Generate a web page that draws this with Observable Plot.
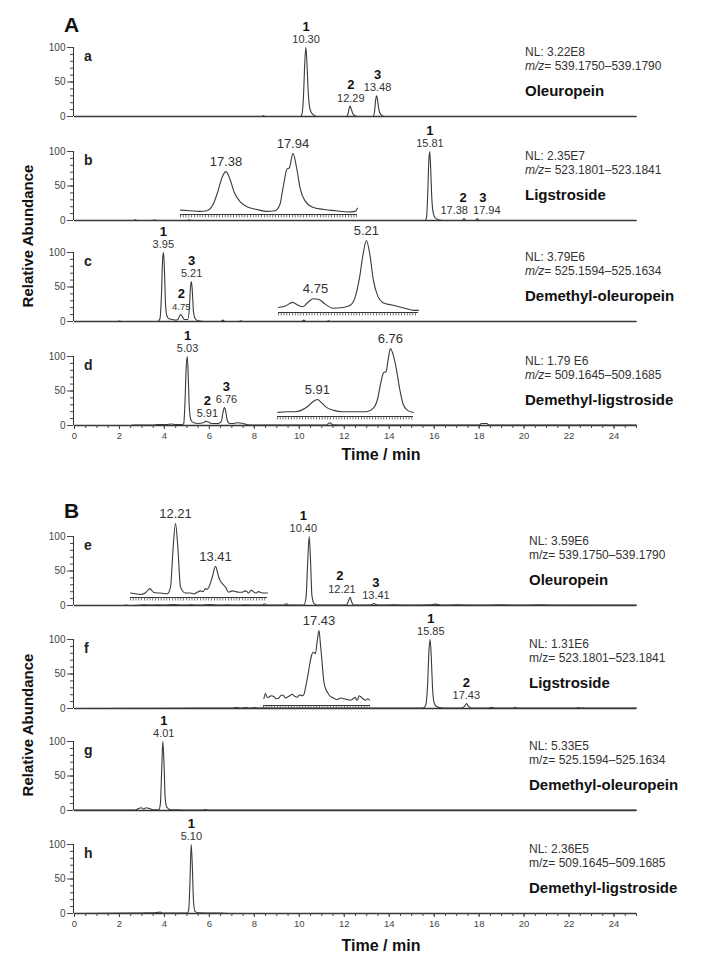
<!DOCTYPE html>
<html><head><meta charset="utf-8">
<script src="https://cdn.jsdelivr.net/npm/d3@7"></script>
<script src="https://cdn.jsdelivr.net/npm/@observablehq/plot@0.6"></script>
<style>
html,body{margin:0;padding:0;background:#fff;}
#fig{position:relative;width:710px;height:967px;font-family:"Liberation Sans",Arial,Helvetica,sans-serif;overflow:hidden;background:#fff;}
.abs{position:absolute;white-space:nowrap;line-height:1;}
</style></head><body><div id="fig"></div>
<script>
// ---------------- DATA ----------------
const groupTitles = ["A", "B"];
const panelLetters = ["a", "b", "c", "d", "e", "f", "g", "h"];
const nlValues = ["3.22E8", "2.35E7", "3.79E6", "1.79 E6", "3.59E6", "1.31E6", "5.33E5", "2.36E5"];
const mzRanges = ["539.1750–539.1790", "523.1801–523.1841", "525.1594–525.1634", "509.1645–509.1685",
                  "539.1750–539.1790", "523.1801–523.1841", "525.1594–525.1634", "509.1645–509.1685"];
const compoundNames = ["Oleuropein", "Ligstroside", "Demethyl-oleuropein", "Demethyl-ligstroside",
                       "Oleuropein", "Ligstroside", "Demethyl-oleuropein", "Demethyl-ligstroside"];
const yTickLabels = [0, 50, 100];
const xTickLabels = [0, 2, 4, 6, 8, 10, 12, 14, 16, 18, 20, 22, 24];
const yAxisTitle = "Relative Abundance";
const xAxisTitle = "Time / min";

// chromatogram traces: [time (min), relative abundance (%)]
const trace_a = [[0,0],[8.3,0],[8.4,1],[8.5,0],[10.05,0],[10.12,4],[10.18,25],[10.24,75],[10.29,100],[10.34,78],[10.39,40],[10.45,15],[10.53,6],[10.65,2],[10.8,0],[12.1,0],[12.17,4],[12.22,12],[12.26,15],[12.31,11],[12.37,5],[12.47,1],[12.6,0],[13.28,0],[13.35,8],[13.40,25],[13.44,30],[13.48,24],[13.54,10],[13.62,3],[13.8,0],[25,0]];
const trace_b = [[0,0],[2.6,0],[2.7,1],[2.8,0],[3.5,0],[3.56,1],[3.65,0],[5.0,0],[5.1,1],[5.2,0],[15.6,0],[15.66,5],[15.71,35],[15.76,85],[15.80,100],[15.84,80],[15.89,35],[15.95,12],[16.04,4],[16.2,1],[16.4,0],[17.25,0],[17.33,3],[17.41,0],[17.84,0],[17.92,3],[18.0,0],[25,0]];
const trace_c = [[0,0],[1.9,0],[2.0,0.6],[2.1,0],[3.7,0],[3.80,4],[3.87,40],[3.92,90],[3.96,100],[4.0,75],[4.05,25],[4.11,8],[4.2,4],[4.35,3],[4.5,2],[4.6,3],[4.67,8],[4.73,10],[4.8,7],[4.88,3],[5.04,3],[5.11,20],[5.16,50],[5.20,58],[5.24,45],[5.29,15],[5.37,4],[5.5,1],[5.8,0],[6.5,0],[6.6,2],[6.7,0],[7.3,0],[7.4,1],[7.5,0],[10.1,0],[10.2,2],[10.3,0],[11.2,0],[11.3,1],[11.4,0],[25,0]];
const trace_d = [[0,0],[2.5,0],[2.6,0.8],[3.5,0.8],[3.7,1.5],[4.1,1.5],[4.3,2.2],[4.5,1.5],[4.8,1.5],[4.86,3],[4.91,30],[4.97,85],[5.02,100],[5.06,70],[5.11,25],[5.18,8],[5.3,4],[5.5,3],[5.72,4],[5.84,6],[5.95,5],[6.1,3],[6.4,3],[6.53,6],[6.6,18],[6.67,26],[6.73,20],[6.79,8],[6.9,3],[7.1,3],[7.25,4],[7.5,3],[7.7,1],[8.0,0.5],[11.2,0.5],[11.35,4],[11.5,1],[12,0.5],[18.0,0.5],[18.1,3],[18.35,3],[18.45,0.5],[25,0.5]];
const trace_e = [[0,0],[2.2,0],[2.3,0.8],[2.4,0],[2.8,0.3],[3.1,1],[3.4,0.5],[3.7,1],[4.0,0.6],[4.4,1.2],[4.8,0.5],[5.2,1],[5.6,0.6],[6.0,1.2],[6.4,0.5],[6.8,1],[7.2,0.6],[7.6,1],[8.0,0.5],[8.35,0.6],[8.45,2.5],[8.55,0.6],[9.0,0.5],[9.3,0.6],[9.42,2.5],[9.55,0.5],[10.2,0.5],[10.3,12],[10.37,60],[10.44,100],[10.5,65],[10.56,15],[10.65,3],[10.8,0.5],[11.5,0.5],[12.1,0.6],[12.18,6],[12.26,12],[12.33,5],[12.42,0.6],[13.1,0.5],[13.24,1.5],[13.32,3],[13.41,1.5],[13.6,0.5],[14.2,1],[15.0,0.6],[15.8,1],[16.05,2],[16.3,0.6],[17.0,1],[18.0,0.6],[19.0,1],[19.8,0.6],[20.7,1],[21.5,0.6],[22.5,0.8],[23.5,0.5],[24.5,0.6],[25,0.5]];
const trace_f = [[0,0],[3,0.3],[6,0.5],[7.0,0.5],[7.2,1.2],[7.4,0.6],[7.6,1.2],[7.8,0.6],[8.0,1.2],[8.2,0.6],[8.4,1],[8.6,0.5],[10,0.5],[12,0.6],[14,0.5],[15.5,0.5],[15.62,4],[15.70,30],[15.77,85],[15.82,100],[15.87,75],[15.93,28],[16.0,8],[16.1,3],[16.3,1],[16.6,0.5],[17.2,0.5],[17.34,3],[17.44,7],[17.53,3],[17.65,0.8],[18.4,0.6],[18.55,1.6],[18.7,0.6],[19.5,0.6],[19.6,1.8],[19.7,0.6],[22.3,0.6],[22.42,1.2],[22.52,0.6],[22.62,1],[22.72,0.5],[25,0.5]];
const trace_g = [[0,0.5],[2.7,0.5],[2.85,3],[2.98,4],[3.08,2],[3.18,4],[3.32,3],[3.5,1],[3.75,1],[3.82,10],[3.88,60],[3.93,100],[3.98,70],[4.03,20],[4.1,5],[4.3,1],[4.8,0.8],[5.7,0.5],[5.82,1.5],[5.92,0.5],[25,0.5]];
const trace_h = [[0,0],[2.5,0.5],[3.0,0.8],[3.5,1],[3.82,2],[3.92,0.6],[4.5,0.5],[5.0,0.5],[5.08,5],[5.14,50],[5.19,100],[5.24,70],[5.29,20],[5.36,3],[5.5,1],[6.5,0.5],[7,0],[25,0]];
const traces = [trace_a, trace_b, trace_c, trace_d, trace_e, trace_f, trace_g, trace_h];

// peak annotations: apex time, apex height, peak number, retention time label
const peaks_a = [{t:10.30,h:100,n:"1",rt:"10.30"},{t:12.29,h:15,n:"2",rt:"12.29"},{t:13.48,h:30,n:"3",rt:"13.48"}];
const peaks_b = [{t:15.81,h:100,n:"1",rt:"15.81"},{t:17.38,h:3,n:"2",rt:"17.38"},{t:17.94,h:3,n:"3",rt:"17.94"}];
const peaks_c = [{t:3.95,h:100,n:"1",rt:"3.95"},{t:4.75,h:10,n:"2",rt:"4.75"},{t:5.21,h:58,n:"3",rt:"5.21"}];
const peaks_d = [{t:5.03,h:100,n:"1",rt:"5.03"},{t:5.91,h:6,n:"2",rt:"5.91"},{t:6.76,h:26,n:"3",rt:"6.76"}];
const peaks_e = [{t:10.40,h:100,n:"1",rt:"10.40"},{t:12.21,h:12,n:"2",rt:"12.21"},{t:13.41,h:3,n:"3",rt:"13.41"}];
const peaks_f = [{t:15.85,h:100,n:"1",rt:"15.85"},{t:17.43,h:7,n:"2",rt:"17.43"}];
const peaks_g = [{t:3.97,h:100,n:"1",rt:"4.01"}];
const peaks_h = [{t:5.20,h:100,n:"1",rt:"5.10"}];
const peaks = [peaks_a, peaks_b, peaks_c, peaks_d, peaks_e, peaks_f, peaks_g, peaks_h];

// zoomed insets (time in min, relative abundance within the inset)
const inset_b = [[17.00,7],[17.08,6],[17.16,5],[17.22,6],[17.27,15],[17.31,35],[17.35,60],[17.38,68],[17.41,58],[17.45,35],[17.50,20],[17.56,12],[17.64,8],[17.72,5],[17.79,6],[17.83,15],[17.86,45],[17.89,72],[17.91,74],[17.94,97],[17.97,75],[18.00,42],[18.04,22],[18.10,12],[18.20,8],[18.30,6],[18.40,4],[18.46,5],[18.48,10]];
const inset_c = [[4.45,7],[4.51,9],[4.57,14],[4.62,10],[4.66,8],[4.71,15],[4.75,19],[4.80,18],[4.85,12],[4.92,6],[5.01,7],[5.07,10],[5.11,20],[5.15,48],[5.18,80],[5.21,100],[5.24,80],[5.27,45],[5.31,22],[5.35,14],[5.44,10],[5.54,6],[5.62,3],[5.66,3]];
const inset_d = [[5.45,6],[5.55,7],[5.65,7],[5.72,9],[5.80,15],[5.86,22],[5.91,25],[5.96,20],[6.02,13],[6.10,9],[6.20,7],[6.35,7],[6.48,7],[6.56,12],[6.61,25],[6.65,50],[6.68,64],[6.71,66],[6.74,88],[6.76,100],[6.79,92],[6.83,70],[6.87,40],[6.91,18],[6.96,9],[7.03,6]];
const inset_e = [[10.86,6],[11.00,5],[11.16,4],[11.30,6],[11.44,12],[11.55,7],[11.66,6],[11.76,6],[11.96,5],[12.06,14],[12.14,68],[12.21,100],[12.28,68],[12.36,14],[12.51,6],[12.66,6],[12.76,5],[12.86,7],[12.96,9],[13.04,8],[13.11,12],[13.16,11],[13.21,14],[13.31,27],[13.41,42],[13.51,27],[13.56,22],[13.61,19],[13.71,14],[13.81,7],[13.91,9],[14.01,8],[14.11,7],[14.21,7],[14.31,9],[14.41,6],[14.48,10],[14.61,6],[14.70,8],[14.76,7],[14.86,6],[14.97,6]];
const inset_f = [[16.06,9],[16.10,16],[16.14,11],[16.18,11],[16.24,13],[16.31,12],[16.37,9],[16.44,10],[16.50,14],[16.56,13],[16.60,10],[16.65,11],[16.71,13],[16.77,15],[16.84,12],[16.90,11],[16.96,14],[17.03,13],[17.08,16],[17.11,24],[17.17,40],[17.22,56],[17.27,68],[17.30,71],[17.34,70],[17.36,69],[17.41,88],[17.45,100],[17.49,80],[17.51,69],[17.54,50],[17.57,33],[17.62,22],[17.66,18],[17.72,13],[17.78,11],[17.85,9],[17.91,8],[18.00,10],[18.08,9],[18.16,8],[18.25,7],[18.31,9],[18.37,11],[18.40,7],[18.43,8],[18.46,13],[18.50,12],[18.56,9],[18.63,7],[18.68,9],[18.73,7]];
const insetLabels_b = [{t:17.38,h:68,label:"17.38"},{t:17.94,h:97,label:"17.94"}];
const insetLabels_c = [{t:4.77,h:19,label:"4.75"},{t:5.21,h:100,label:"5.21"}];
const insetLabels_d = [{t:5.91,h:25,label:"5.91"},{t:6.76,h:100,label:"6.76"}];
const insetLabels_e = [{t:12.21,h:100,label:"12.21"},{t:13.41,h:42,label:"13.41"}];
const insetLabels_f = [{t:17.45,h:100,label:"17.43"}];

// ---------------- LAYOUT ----------------
const FONT = '"Liberation Sans", Arial, Helvetica, sans-serif';
const fig = document.getElementById("fig");
const panelTop = [47, 151, 252, 356, 536, 639, 741, 844]; // pixel row of 100 %
const PH = 69;               // pixel height 0..100 %
const X0 = 74, X1 = 636;     // pixel columns of 0 and 25 min
const rtDx  = {1: [0, -11, 9], 4: [-5, -7, 0]};
const numDx = {1: [0, -2, 5],  4: [-5, -9, 0]};

function put(html, x, y, css, center) {
  const d = document.createElement("div");
  d.className = "abs";
  d.innerHTML = html;
  d.style.cssText += css;
  d.style.left = x + "px";
  d.style.top = y + "px";
  d.style.transform = center ? "translate(-50%,-50%)" : "translateY(-50%)";
  fig.appendChild(d);
  return d;
}

function mainPanel(i) {
  const bottom = (i === 3 || i === 7);
  const mt = 40, mb = bottom ? 30 : 6;
  const marks = [
    Plot.ruleY([0], {x1: 0, x2: 25, stroke: "#333", strokeWidth: 1.6}),
    Plot.ruleX([0], {y1: 0, y2: 100, stroke: "#333", strokeWidth: 1, dx: -1}),
    Plot.axisY(yTickLabels, {tickSize: 6, tickPadding: 2, fontSize: 10, color: "#444", label: null, dx: -1}),
    Plot.axisY(d3.range(0, 101, 10), {tickSize: 3, tickFormat: () => "", label: null, color: "#444", dx: -1}),
    Plot.line(traces[i], {x: d => d[0], y: d => d[1], stroke: "#3a3a3a", strokeWidth: 1.1, curve: "monotone-x"})
  ];
  peaks[i].forEach((p, j) => {
    marks.push(Plot.text([p], {x: "t", y: "h", text: "rt", dy: -8, dx: (rtDx[i] || [])[j] || 0,
      fontSize: (p.h < 15 && i === 2) ? 9.5 : 11, fill: "#333"}));
    marks.push(Plot.text([p], {x: "t", y: "h", text: "n", dy: -21, dx: (numDx[i] || [])[j] || 0,
      fontSize: 13, fontWeight: "bold", fill: "#111"}));
  });
  if (bottom) {
    marks.push(Plot.axisX(xTickLabels, {tickSize: 4, tickPadding: 3, fontSize: 9.5, color: "#444", label: null}));
    marks.push(Plot.axisX(d3.range(0, 25.01, 0.5), {tickSize: 3, tickFormat: () => "", label: null, color: "#444"}));
  }
  const plot = Plot.plot({
    width: 710, height: mt + PH + mb,
    marginTop: mt, marginBottom: mb, marginLeft: X0, marginRight: 710 - X1,
    x: {domain: [0, 25], axis: bottom ? undefined : null},
    y: {domain: [0, 100]},
    style: {background: "transparent", overflow: "visible", fontFamily: FONT},
    marks
  });
  plot.style.position = "absolute";
  plot.style.left = "0px";
  plot.style.top = (panelTop[i] - mt) + "px";
  fig.appendChild(plot);
}

function insetPanel(cfg, data, labels) {
  const mt = 24, mb = 5;
  const plot = Plot.plot({
    width: cfg.right - cfg.left, height: mt + (cfg.y0 - cfg.y100) + mb,
    marginTop: mt, marginBottom: mb, marginLeft: 0, marginRight: 0,
    x: {domain: cfg.domain, axis: null},
    y: {domain: [0, 100], axis: null},
    style: {background: "transparent", overflow: "visible", fontFamily: FONT},
    marks: [
      Plot.ruleY([0], {stroke: "#333", strokeWidth: 1.2}),
      Plot.ruleY([0], {stroke: "#555", strokeWidth: 3, strokeDasharray: "0.8,2", dy: 1.5}),
      Plot.line(data, {x: d => d[0], y: d => d[1], stroke: "#3a3a3a", strokeWidth: 1.1, curve: "monotone-x"}),
      Plot.text(labels, {x: "t", y: "h", text: "label", dy: -10, fontSize: 13, fill: "#333"})
    ]
  });
  plot.style.position = "absolute";
  plot.style.left = cfg.left + "px";
  plot.style.top = (cfg.y100 - mt) + "px";
  fig.appendChild(plot);
}

// main panels
for (let i = 0; i < 8; i++) mainPanel(i);

// insets
insetPanel({left: 180, right: 357, y0: 214, y100: 151, domain: [17.0, 18.48]}, inset_b, insetLabels_b);
insetPanel({left: 278, right: 418, y0: 312, y100: 240, domain: [4.45, 5.66]}, inset_c, insetLabels_c);
insetPanel({left: 277, right: 413, y0: 416, y100: 348, domain: [5.445, 7.03]}, inset_d, insetLabels_d);
insetPanel({left: 130, right: 267, y0: 597, y100: 523, domain: [10.86, 14.97]}, inset_e, insetLabels_e);
insetPanel({left: 263, right: 370, y0: 705, y100: 630, domain: [16.05, 18.75]}, inset_f, insetLabels_f);

// texts
put(groupTitles[0], 64, 24, "font-size:21px;font-weight:bold;color:#111;", false);
put(groupTitles[1], 64, 510, "font-size:21px;font-weight:bold;color:#111;", false);
[0, 1].forEach(g => {
  const yc = g === 0 ? 236 : 725;
  put(yAxisTitle, 27, yc, "font-size:15px;font-weight:bold;color:#111;transform-origin:center;", true)
    .style.transform = "translate(-50%,-50%) rotate(-90deg)";
  put(xAxisTitle, 381, g === 0 ? 455 : 946, "font-size:16px;font-weight:bold;color:#111;", true);
});
for (let i = 0; i < 8; i++) {
  const top = panelTop[i];
  const tx = i < 4 ? 525 : 529;
  put(panelLetters[i], 84, top + 9, "font-size:14px;font-weight:bold;color:#222;", false);
  put("NL: " + nlValues[i], tx, top + 5, "font-size:12px;color:#333;", false);
  const mz = i < 4 ? "<i>m/z</i>" : "m/z";
  put(mz + "= " + mzRanges[i], tx, top + 19, "font-size:12px;color:#333;", false);
  put(compoundNames[i], tx, top + 43, "font-size:15px;font-weight:bold;color:#111;", false);
}
</script></body></html>
